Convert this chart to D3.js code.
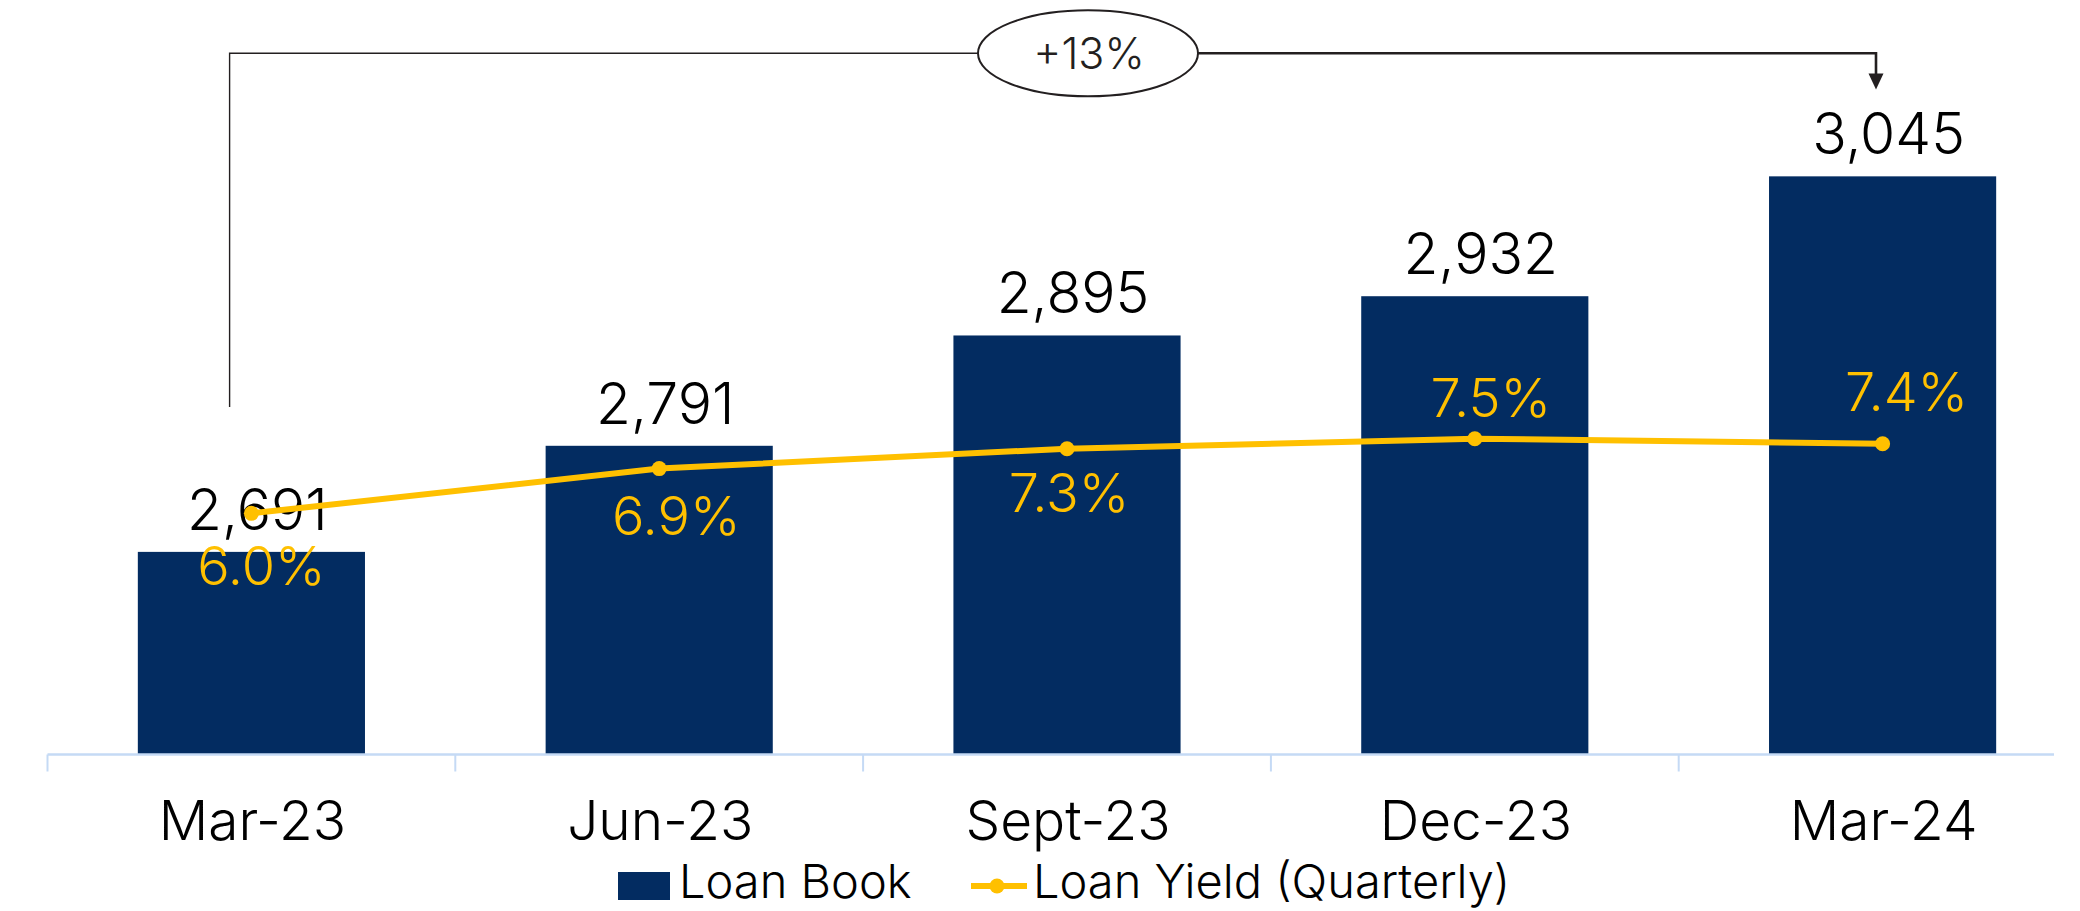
<!DOCTYPE html>
<html>
<head>
<meta charset="utf-8">
<script src="https://cdn.jsdelivr.net/npm/d3@7"></script>
<style>
  body { margin: 0; background: #fff; }
  svg text { font-family: Inter, Roboto, "Open Sans", sans-serif; font-weight: 300; }
</style>
</head>
<body>
<svg id="chart"></svg>
<script>
// data
var quarters   = ["Mar-23", "Jun-23", "Sept-23", "Dec-23", "Mar-24"];
var loanBook   = [2691, 2791, 2895, 2932, 3045];
var loanYield  = [6.0, 6.9, 7.3, 7.5, 7.4];
var growthText = "+13%";
var legendNames = ["Loan Book", "Loan Yield (Quarterly)"];

// layout
var svgWidth = 2080, svgHeight = 911;
var baseY = 754.5, topY = 118;
var navy = "#032c61", gold = "#ffc000", axisCol = "#c5daf5";
var pctDy = [72, 66, 63, -22, -33];   // yield label offset from its marker
var pctDx = [10, 17, 2, 16, 24];

var svg = d3.select("#chart")
  .attr("width", svgWidth)
  .attr("height", svgHeight);

var x = d3.scaleBand()
  .domain(quarters)
  .range([47.5, 2086.5])
  .paddingInner(0.443)
  .paddingOuter(0.2215);

var y = d3.scaleLinear().domain([2500, 3100]).range([baseY, topY]);
var y2 = d3.scaleLinear().domain([1.15, 13.95]).range([baseY, topY]);

var step = x.step();
function cx(d) { return x(d) + x.bandwidth() / 2; }

// bars
svg.selectAll("rect.bar")
  .data(loanBook)
  .enter()
  .append("rect")
  .attr("class", "bar")
  .attr("x", function(d, i) { return x(quarters[i]); })
  .attr("width", x.bandwidth())
  .attr("y", function(d) { return y(d); })
  .attr("height", function(d) { return baseY - y(d); })
  .attr("fill", navy);

// x axis line + ticks at band edges
svg.append("line")
  .attr("x1", 47.5).attr("x2", 2054)
  .attr("y1", baseY).attr("y2", baseY)
  .attr("stroke", axisCol).attr("stroke-width", 2.5);

svg.selectAll("line.tick")
  .data(quarters)
  .enter()
  .append("line")
  .attr("class", "tick")
  .attr("x1", function(d) { return cx(d) - step / 2; })
  .attr("x2", function(d) { return cx(d) - step / 2; })
  .attr("y1", baseY).attr("y2", baseY + 17)
  .attr("stroke", axisCol).attr("stroke-width", 2);

// category labels
svg.selectAll("text.cat")
  .data(quarters)
  .enter()
  .append("text")
  .attr("class", "cat")
  .attr("x", function(d) { return cx(d) + 1; })
  .attr("y", 840)
  .attr("text-anchor", "middle")
  .attr("font-size", 55)
  .attr("fill", "#000")
  .text(function(d) { return d; });

// bar value labels
svg.selectAll("text.val")
  .data(loanBook)
  .enter()
  .append("text")
  .attr("class", "val")
  .attr("x", function(d, i) { return cx(quarters[i]) + 6; })
  .attr("y", function(d) { return y(d) - 22; })
  .attr("text-anchor", "middle")
  .attr("font-size", 57)
  .attr("fill", "#000")
  .text(function(d) { return d3.format(",")(d); });

// yield line
var line = d3.line()
  .x(function(d, i) { return cx(quarters[i]); })
  .y(function(d) { return y2(d); });

svg.append("path")
  .datum(loanYield)
  .attr("d", line)
  .attr("fill", "none")
  .attr("stroke", gold)
  .attr("stroke-width", 6);

svg.selectAll("circle.pt")
  .data(loanYield)
  .enter()
  .append("circle")
  .attr("class", "pt")
  .attr("cx", function(d, i) { return cx(quarters[i]); })
  .attr("cy", function(d) { return y2(d); })
  .attr("r", 7.5)
  .attr("fill", gold);

svg.selectAll("text.pct")
  .data(loanYield)
  .enter()
  .append("text")
  .attr("class", "pct")
  .attr("x", function(d, i) { return cx(quarters[i]) + pctDx[i]; })
  .attr("y", function(d, i) { return y2(d) + pctDy[i]; })
  .attr("text-anchor", "middle")
  .attr("font-size", 54)
  .attr("fill", gold)
  .text(function(d) { return d.toFixed(1) + "%"; });

// growth annotation: bracket from first bar to last bar
var ax0 = 229.6, ax1 = 1876, annY = 53.3;
var ell = { cx: 1088, rx: 110, ry: 43 };

svg.append("path")
  .attr("d", "M" + ax0 + "," + 407 + "V" + annY + "H" + (ell.cx - ell.rx))
  .attr("fill", "none").attr("stroke", "#231f20").attr("stroke-width", 1.4);

svg.append("path")
  .attr("d", "M" + (ell.cx + ell.rx) + "," + annY + "H" + ax1 + "V" + 76)
  .attr("fill", "none").attr("stroke", "#231f20").attr("stroke-width", 2.6);

svg.append("path")
  .attr("d", "M" + (ax1 - 7.5) + ",73.5L" + (ax1 + 7.5) + ",73.5L" + ax1 + ",89.5Z")
  .attr("fill", "#231f20");

svg.append("ellipse")
  .attr("cx", ell.cx).attr("cy", annY)
  .attr("rx", ell.rx).attr("ry", ell.ry)
  .attr("fill", "#fff").attr("stroke", "#231f20").attr("stroke-width", 2);

svg.append("text")
  .attr("x", ell.cx + 1).attr("y", 68.5)
  .attr("text-anchor", "middle")
  .attr("font-size", 43)
  .attr("fill", "#231f20")
  .text(growthText);

// legend
var lg = svg.append("g");
lg.append("rect")
  .attr("x", 618).attr("y", 872)
  .attr("width", 52).attr("height", 28)
  .attr("fill", navy);
lg.append("text")
  .attr("x", 679).attr("y", 898)
  .attr("font-size", 47)
  .text(legendNames[0]);
lg.append("line")
  .attr("x1", 971).attr("x2", 1027)
  .attr("y1", 886).attr("y2", 886)
  .attr("stroke", gold).attr("stroke-width", 6);
lg.append("circle")
  .attr("cx", 997).attr("cy", 886).attr("r", 7.5)
  .attr("fill", gold);
lg.append("text")
  .attr("x", 1033).attr("y", 898)
  .attr("font-size", 47)
  .text(legendNames[1]);
</script>
</body>
</html>
